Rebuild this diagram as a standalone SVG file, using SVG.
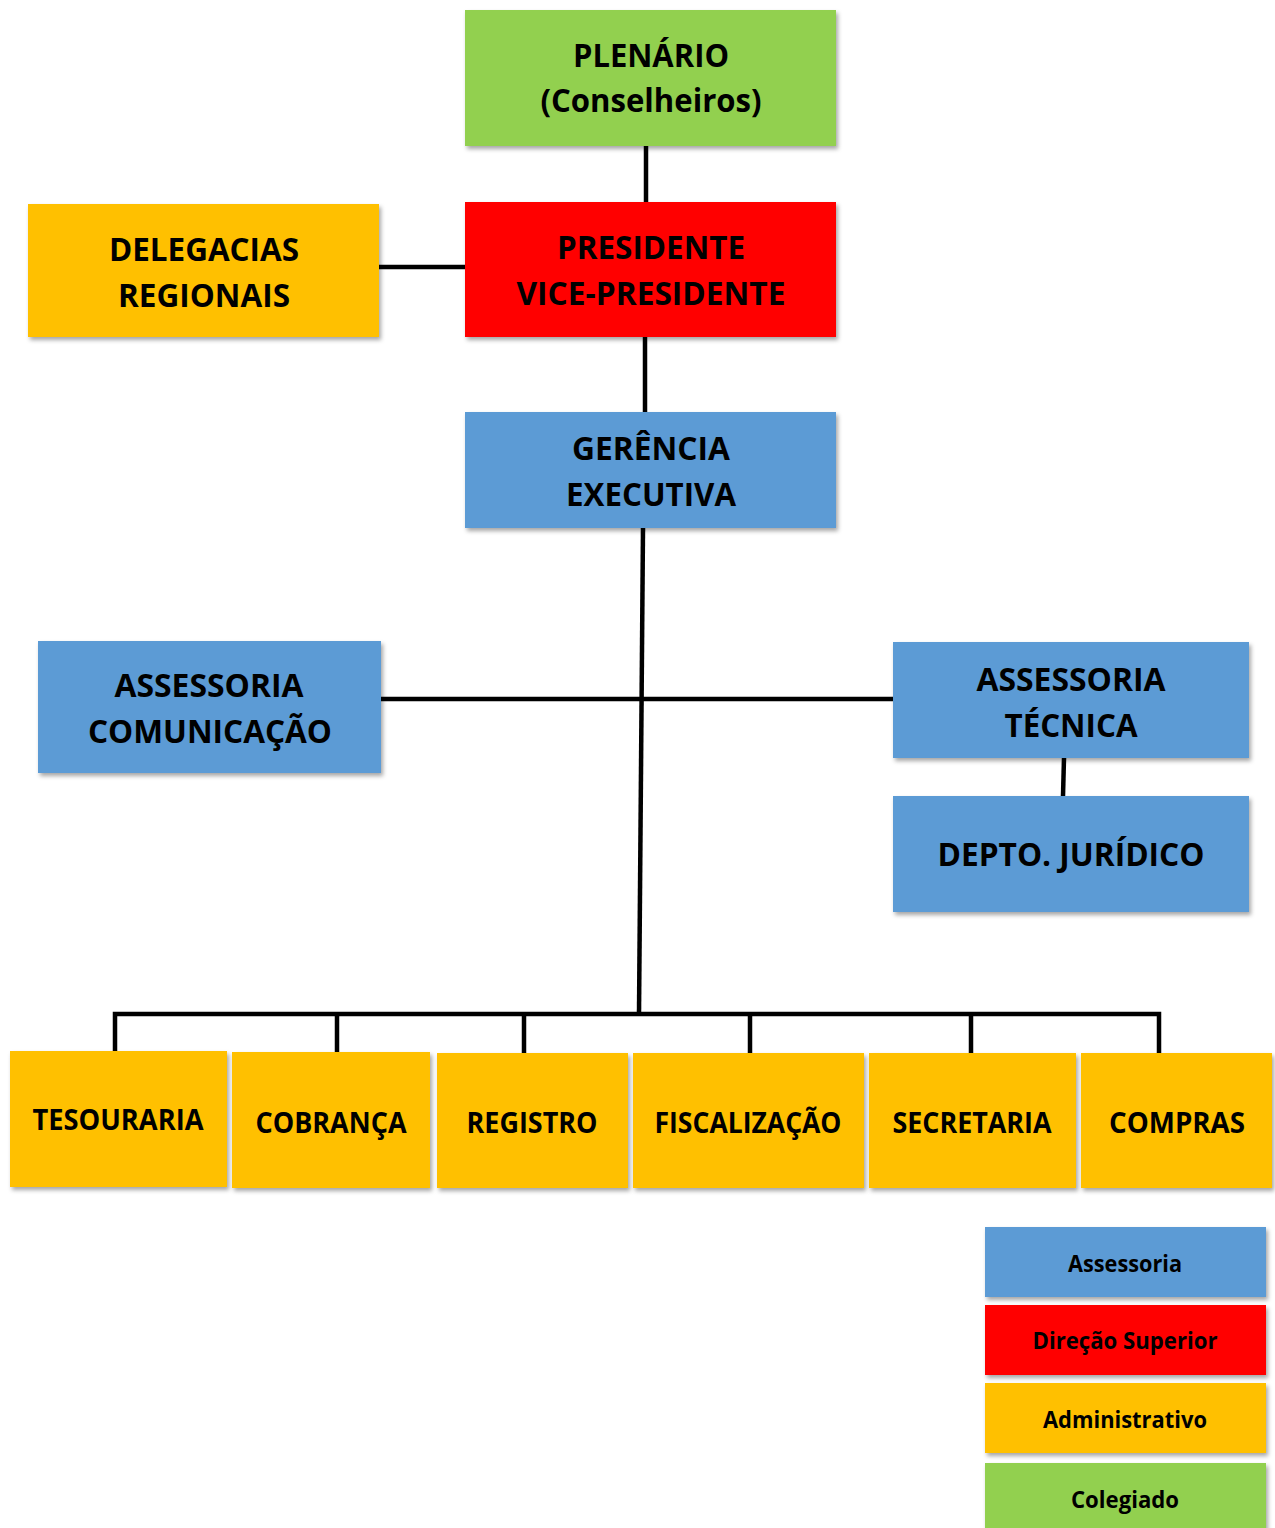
<svg xmlns="http://www.w3.org/2000/svg" width="1275" height="1528" viewBox="0 0 1275 1528">
<style>
.box{filter:url(#sh)}
.g{fill:#92D050}.r{fill:#FF0000}.b{fill:#5B9BD5}.y{fill:#FFC000}
text{font-family:"Open Sans","Liberation Sans",sans-serif;font-weight:700;fill:#000;text-anchor:middle}
.t1{font-size:33px}.t2{font-size:29px}.t3{font-size:23px}
.c{stroke:#000;stroke-width:4.5;fill:none}
</style>
<defs>
<filter id="sh" x="-5%" y="-5%" width="115%" height="125%">
<feDropShadow dx="2" dy="3" stdDeviation="2" flood-color="#000" flood-opacity="0.35"/>
</filter>
</defs>
<g id="connectors" class="c">
<line x1="646" y1="146" x2="646" y2="202"/>
<line x1="379" y1="267" x2="465" y2="267"/>
<line x1="645" y1="337" x2="645" y2="412"/>
<line x1="643" y1="528" x2="639" y2="1014"/>
<line x1="381" y1="699" x2="893" y2="699"/>
<line x1="1064" y1="758" x2="1063" y2="796"/>
<polyline points="115,1052 115,1014 1159,1014 1159,1053"/>
<line x1="337" y1="1014" x2="337" y2="1052"/>
<line x1="524" y1="1014" x2="524" y2="1053"/>
<line x1="750" y1="1014" x2="750" y2="1053"/>
<line x1="971" y1="1014" x2="971" y2="1053"/>
</g>
<g id="plenario"><rect class="box g" x="465" y="10" width="371" height="136"/>
<text class="t1" x="651" y="67" textLength="156" lengthAdjust="spacingAndGlyphs">PLENÁRIO</text>
<text class="t1" x="651" y="112" textLength="221" lengthAdjust="spacingAndGlyphs">(Conselheiros)</text></g>
<g id="presidente"><rect class="box r" x="465" y="202" width="371" height="135"/>
<text class="t1" x="651" y="259" textLength="188" lengthAdjust="spacingAndGlyphs">PRESIDENTE</text>
<text class="t1" x="651" y="305" textLength="269" lengthAdjust="spacingAndGlyphs">VICE-PRESIDENTE</text></g>
<g id="delegacias"><rect class="box y" x="28" y="204" width="351" height="133"/>
<text class="t1" x="204" y="261" textLength="190" lengthAdjust="spacingAndGlyphs">DELEGACIAS</text>
<text class="t1" x="204" y="307" textLength="172" lengthAdjust="spacingAndGlyphs">REGIONAIS</text></g>
<g id="gerencia"><rect class="box b" x="465" y="412" width="371" height="116"/>
<text class="t1" x="651" y="460" textLength="158" lengthAdjust="spacingAndGlyphs">GERÊNCIA</text>
<text class="t1" x="651" y="506" textLength="170" lengthAdjust="spacingAndGlyphs">EXECUTIVA</text></g>
<g id="assessoria-comunicacao"><rect class="box b" x="38" y="641" width="343" height="132"/>
<text class="t1" x="209" y="697" textLength="189" lengthAdjust="spacingAndGlyphs">ASSESSORIA</text>
<text class="t1" x="210" y="743" textLength="244" lengthAdjust="spacingAndGlyphs">COMUNICAÇÃO</text></g>
<g id="assessoria-tecnica"><rect class="box b" x="893" y="642" width="356" height="116"/>
<text class="t1" x="1071" y="691" textLength="189" lengthAdjust="spacingAndGlyphs">ASSESSORIA</text>
<text class="t1" x="1071" y="737" textLength="133" lengthAdjust="spacingAndGlyphs">TÉCNICA</text></g>
<g id="depto-juridico"><rect class="box b" x="893" y="796" width="356" height="116"/>
<text class="t1" x="1071" y="866" textLength="267" lengthAdjust="spacingAndGlyphs">DEPTO. JURÍDICO</text></g>
<g id="tesouraria"><rect class="box y" x="10" y="1051" width="217" height="136"/>
<text class="t2" x="118" y="1130" textLength="171" lengthAdjust="spacingAndGlyphs">TESOURARIA</text></g>
<g id="cobranca"><rect class="box y" x="232" y="1052" width="198" height="136"/>
<text class="t2" x="331" y="1133" textLength="151" lengthAdjust="spacingAndGlyphs">COBRANÇA</text></g>
<g id="registro"><rect class="box y" x="437" y="1053" width="191" height="135"/>
<text class="t2" x="532" y="1133" textLength="131" lengthAdjust="spacingAndGlyphs">REGISTRO</text></g>
<g id="fiscalizacao"><rect class="box y" x="633" y="1053" width="231" height="135"/>
<text class="t2" x="748" y="1133" textLength="187" lengthAdjust="spacingAndGlyphs">FISCALIZAÇÃO</text></g>
<g id="secretaria"><rect class="box y" x="869" y="1053" width="207" height="135"/>
<text class="t2" x="972" y="1133" textLength="159" lengthAdjust="spacingAndGlyphs">SECRETARIA</text></g>
<g id="compras"><rect class="box y" x="1081" y="1053" width="191" height="135"/>
<text class="t2" x="1177" y="1133" textLength="136" lengthAdjust="spacingAndGlyphs">COMPRAS</text></g>
<g id="legend-assessoria"><rect class="box b" x="985" y="1227" width="281" height="70"/>
<text class="t3" x="1125" y="1272" textLength="114" lengthAdjust="spacingAndGlyphs">Assessoria</text></g>
<g id="legend-direcao"><rect class="box r" x="985" y="1305" width="281" height="70"/>
<text class="t3" x="1125" y="1349" textLength="185" lengthAdjust="spacingAndGlyphs">Direção Superior</text></g>
<g id="legend-administrativo"><rect class="box y" x="985" y="1383" width="281" height="70"/>
<text class="t3" x="1125" y="1428" textLength="164" lengthAdjust="spacingAndGlyphs">Administrativo</text></g>
<g id="legend-colegiado"><rect class="box g" x="985" y="1463" width="281" height="70"/>
<text class="t3" x="1125" y="1508" textLength="108" lengthAdjust="spacingAndGlyphs">Colegiado</text></g>
</svg>
